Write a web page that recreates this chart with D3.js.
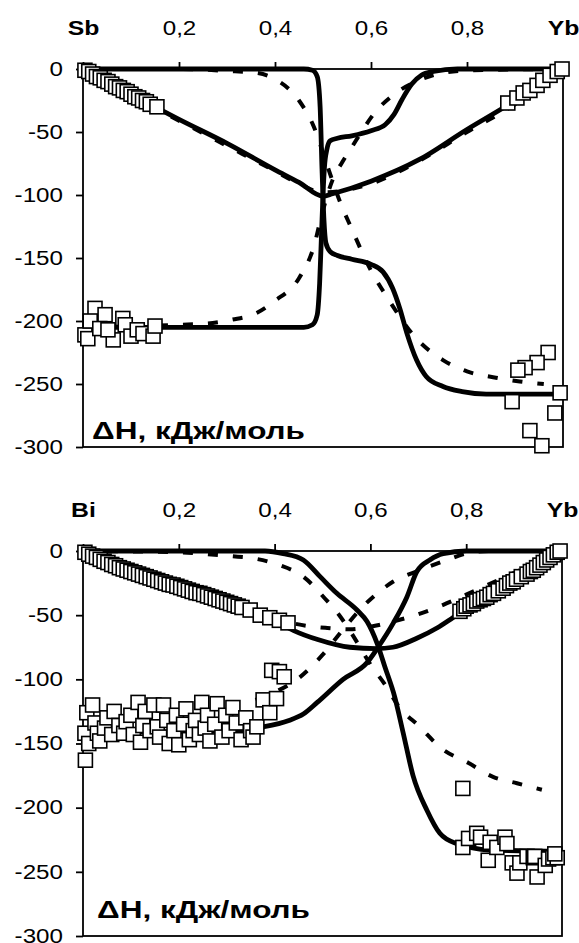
<!DOCTYPE html>
<html>
<head>
<meta charset="utf-8">
<script src="https://cdn.jsdelivr.net/npm/d3@7"></script>
<style>
  body { margin: 0; background: #fff; }
  text { font-family: Arial, "Liberation Sans", sans-serif; fill: #000; }
</style>
</head>
<body>
<svg id="chart" width="579" height="943"></svg>
<script>
// axis ticks
const xTicks = [0, 0.2, 0.4, 0.6, 0.8, 1];
const yTicks = [0, -50, -100, -150, -200, -250, -300];
const yLabel = "ΔH, кДж/моль";

// ---- Sb–Yb panel ----
// calculated curves (solid)
const sbPartSb = [[0,0],[0.2,0],[0.4,0],[0.46,0],[0.478,-1],[0.488,-6],[0.494,-30],[0.498,-80],[0.502,-120],[0.506,-138],[0.515,-145],[0.53,-148],[0.56,-151],[0.6,-155],[0.625,-161],[0.645,-174],[0.66,-190],[0.675,-210],[0.695,-231],[0.715,-244],[0.75,-252],[0.79,-256],[0.84,-258],[1,-258]];
const sbPartYb = [[0,-205],[0.2,-205],[0.4,-205],[0.46,-205],[0.478,-203],[0.488,-195],[0.493,-170],[0.497,-130],[0.5,-100],[0.503,-78],[0.508,-64],[0.515,-57],[0.53,-55],[0.56,-53],[0.6,-49],[0.63,-44],[0.648,-36],[0.665,-24],[0.685,-12],[0.705,-5],[0.73,-2],[0.78,0],[1,0]];
const sbMix = [[0,0],[0.1,-20],[0.2,-40],[0.3,-59],[0.4,-80],[0.45,-90],[0.5,-101],[0.52,-99],[0.6,-89],[0.7,-72],[0.8,-48],[0.875,-31],[0.95,-13],[1,0]];
// model curves (dashed)
const sbPartSbModel = [[0,0],[0.2,0],[0.3,-1.5],[0.36,-3],[0.4,-8],[0.45,-25],[0.48,-45],[0.51,-78],[0.535,-105],[0.56,-127],[0.6,-160],[0.635,-182],[0.69,-212],[0.75,-231],[0.8,-240],[0.86,-245],[0.91,-248],[0.96,-250]];
const sbPartYbModel = [[0,-205],[0.2,-203],[0.26,-202],[0.31,-199],[0.36,-194],[0.4,-184],[0.45,-166],[0.48,-142],[0.5,-112],[0.52,-88],[0.54,-74],[0.56,-62],[0.585,-47],[0.605,-36],[0.645,-21],[0.7,-9],[0.75,-3],[0.81,-1],[1,0]];
const sbMixModel = [[0,0],[0.1,-21],[0.2,-41],[0.3,-61],[0.4,-81],[0.45,-91],[0.5,-98],[0.55,-96],[0.6,-91],[0.7,-73],[0.8,-50],[0.9,-28],[1,0]];
// experiment (squares)
const sbMixExp = [[0.004,-1],[0.012,-2],[0.02,-4],[0.028,-6],[0.036,-7],[0.044,-9],[0.052,-10],[0.06,-12],[0.068,-14],[0.076,-15],[0.084,-17],[0.092,-18],[0.1,-20],[0.108,-22],[0.116,-23],[0.124,-25],[0.132,-26],[0.14,-28],[0.154,-30],
  [0.885,-27],[0.904,-23],[0.917,-19],[0.931,-17],[0.946,-13],[0.958,-9],[0.973,-5],[0.988,-2],[0.998,0]];
const sbPartYbExp = [[0.004,-211],[0.025,-190],[0.015,-200],[0.01,-214],[0.046,-195],[0.035,-206],[0.063,-215],[0.052,-207],[0.083,-198],[0.088,-203],[0.1,-212],[0.113,-207],[0.125,-210],[0.146,-212],[0.15,-204]];
const sbPartSbExp = [[0.969,-225],[0.946,-233],[0.921,-237],[0.906,-239],[0.894,-264],[0.994,-257],[0.983,-273],[0.931,-287],[0.956,-299]];

// ---- Bi–Yb panel ----
const biPartBi = [[0,0],[0.2,0],[0.38,0],[0.418,-2],[0.46,-7],[0.495,-20],[0.53,-33],[0.572,-46],[0.593,-55],[0.614,-72],[0.63,-90],[0.651,-114],[0.668,-141],[0.689,-175],[0.718,-202],[0.745,-220],[0.78,-228],[0.85,-233],[1,-234]];
const biPartYb = [[0,-141],[0.2,-141],[0.3,-140],[0.376,-137],[0.43,-132],[0.46,-127],[0.489,-118],[0.543,-100],[0.593,-87],[0.616,-75],[0.648,-56],[0.676,-36],[0.697,-16],[0.724,-7],[0.752,-2],[0.8,0],[1,0]];
const biMix = [[0,0],[0.1,-14],[0.2,-27],[0.3,-40],[0.35,-47],[0.4,-54],[0.44,-62],[0.49,-69],[0.557,-75],[0.613,-76],[0.647,-75],[0.697,-68],[0.739,-60],[0.772,-52],[0.8,-45],[0.9,-24],[1,0]];
const biPartBiModel = [[0,0],[0.2,-1],[0.26,-2.5],[0.31,-4],[0.36,-6],[0.41,-11],[0.46,-20],[0.505,-37],[0.537,-51],[0.557,-62],[0.603,-90],[0.634,-106],[0.655,-119],[0.703,-137],[0.749,-154],[0.804,-165],[0.856,-176],[0.906,-181],[0.958,-186]];
const biPartYbModel = [[0.36,-116],[0.4,-110],[0.447,-100],[0.5,-81],[0.541,-62],[0.585,-43],[0.605,-36],[0.647,-24],[0.703,-15],[0.76,-7],[0.8,-2],[0.85,0],[1,0]];
const biMixModel = [[0,0],[0.1,-14],[0.2,-27],[0.3,-40],[0.4,-52],[0.447,-57],[0.51,-60],[0.557,-61],[0.6,-59],[0.657,-54],[0.71,-48],[0.752,-42],[0.8,-34],[0.9,-17],[1,0]];
const biMixExp = [[0.004,-1],[0.012,-2.5],[0.02,-4],[0.028,-5],[0.036,-6.5],[0.044,-8],[0.052,-9],[0.06,-10.5],[0.068,-11.5],[0.076,-13],[0.084,-14],[0.092,-15],[0.1,-16],[0.108,-17],[0.116,-18],[0.124,-19],[0.132,-20],[0.14,-21],[0.148,-22],[0.156,-23],[0.164,-24],[0.172,-25],[0.18,-26],[0.188,-26.5],[0.196,-27.5],[0.204,-28.5],[0.212,-29.5],[0.22,-30.5],[0.228,-31.5],[0.236,-32.5],[0.244,-33],[0.252,-34],[0.26,-35],[0.268,-36],[0.276,-37],[0.284,-38],[0.292,-39],[0.3,-40],[0.308,-41],[0.316,-42],[0.324,-43],[0.332,-44],[0.349,-46],[0.37,-50],[0.39,-52],[0.41,-54],[0.428,-56],
  [0.787,-47],[0.795,-45],[0.8,-43],[0.808,-42],[0.815,-41],[0.822,-39],[0.829,-38],[0.836,-37],[0.843,-36],[0.85,-34],[0.857,-33],[0.867,-31],[0.877,-29],[0.884,-27],[0.891,-25],[0.898,-24],[0.905,-22],[0.915,-20],[0.927,-18],[0.934,-16],[0.94,-15],[0.947,-13],[0.954,-11],[0.961,-9],[0.968,-7],[0.975,-5],[0.982,-3],[0.99,-1],[0.996,0]];
const biPartYbExp = [[0.005,-163],[0.004,-142],[0.008,-126],[0.012,-150],[0.02,-120],[0.025,-134],[0.03,-142],[0.035,-148],[0.045,-138],[0.05,-130],[0.06,-143],[0.065,-125],[0.075,-136],[0.085,-142],[0.09,-133],[0.1,-128],[0.105,-143],[0.115,-118],[0.12,-149],[0.125,-136],[0.13,-125],[0.14,-140],[0.148,-120],[0.155,-137],[0.16,-145],[0.168,-120],[0.175,-132],[0.18,-150],[0.19,-140],[0.195,-128],[0.2,-151],[0.21,-135],[0.215,-123],[0.222,-147],[0.23,-140],[0.235,-132],[0.243,-143],[0.248,-118],[0.255,-138],[0.26,-128],[0.265,-148],[0.275,-135],[0.28,-119],[0.29,-145],[0.298,-128],[0.305,-140],[0.313,-122],[0.32,-134],[0.33,-147],[0.34,-130],[0.35,-140],[0.355,-145],[0.363,-137],[0.376,-116],[0.39,-126],[0.404,-115],[0.394,-93],[0.41,-94],[0.42,-98]];
const biPartBiExp = [[0.793,-185],[0.793,-231],[0.805,-224],[0.822,-220],[0.83,-223],[0.85,-227],[0.846,-241],[0.864,-231],[0.881,-223],[0.885,-228],[0.896,-243],[0.906,-251],[0.912,-243],[0.927,-238],[0.94,-239],[0.943,-238],[0.948,-254],[0.965,-245],[0.972,-240],[0.981,-239],[0.99,-239],[0.985,-236]];

const panels = [
  { left: 83, right: 563, top: 69, bottom: 447, el: "Sb", labelX: 92, labelY: 439,
    dashed: [sbPartSbModel, sbPartYbModel, sbMixModel],
    solid: [sbPartSb, sbPartYb, sbMix],
    points: [sbMixExp, sbPartYbExp, sbPartSbExp] },
  { left: 83, right: 562, top: 551, bottom: 936, el: "Bi", labelX: 97, labelY: 918,
    dashed: [biPartBiModel, biPartYbModel, biMixModel],
    solid: [biPartBi, biPartYb, biMix],
    points: [biMixExp, biPartYbExp, biPartBiExp] }
];

// the source picture is stretched sideways, so text gets a horizontal scale
const stretch = 1.24;

const svg = d3.select("#chart");

function drawPanel(p) {
  const x = d3.scaleLinear().domain([0, 1]).range([p.left, p.right]);
  const y = d3.scaleLinear().domain([-300, 0]).range([p.bottom, p.top]);
  const g = svg.append("g");

  // frame
  g.append("rect")
    .attr("x", p.left).attr("y", p.top)
    .attr("width", p.right - p.left).attr("height", p.bottom - p.top)
    .attr("fill", "none").attr("stroke", "#000").attr("stroke-width", 1.8);

  // top axis
  const xa = g.append("g")
    .attr("transform", `translate(0,${p.top})`)
    .call(d3.axisTop(x).tickValues(xTicks).tickSize(7)
      .tickFormat(d => d === 0 ? p.el : d === 1 ? "Yb" : d3.format(".1f")(d).replace(".", ",")));
  xa.select(".domain").remove();
  xa.selectAll("line").attr("stroke-width", 1.8);
  xa.selectAll("text")
    .attr("y", 0).attr("dy", 0)
    .attr("transform", d => `translate(0,-34) scale(${d === 0 || d === 1 ? 1.18 : stretch},1)`)
    .style("font-weight", d => (d === 0 || d === 1) ? "bold" : "normal")
    .style("font-size", d => (d === 0 || d === 1) ? "21px" : "19.5px");

  // left axis
  const ya = g.append("g")
    .attr("transform", `translate(${p.left},0)`)
    .call(d3.axisLeft(y).tickValues(yTicks).tickSize(7).tickFormat(d => String(d)));
  ya.select(".domain").remove();
  ya.selectAll("line").attr("stroke-width", 1.8);
  ya.selectAll("text")
    .attr("x", 0)
    .attr("transform", `translate(-20,0) scale(${stretch},1)`)
    .style("font-size", "19.5px");

  const line = d3.line()
    .x(d => x(d[0]))
    .y(d => y(d[1]))
    .curve(d3.curveMonotoneX);

  p.dashed.forEach(s => {
    g.append("path").attr("d", line(s))
      .attr("fill", "none").attr("stroke", "#000")
      .attr("stroke-width", 4).attr("stroke-dasharray", "10,15");
  });
  p.solid.forEach(s => {
    g.append("path").attr("d", line(s))
      .attr("fill", "none").attr("stroke", "#000")
      .attr("stroke-width", 4.8).attr("stroke-linejoin", "round");
  });

  const sz = 14;
  p.points.forEach(s => {
    g.append("g").selectAll("rect").data(s).join("rect")
      .attr("x", d => x(d[0]) - sz / 2)
      .attr("y", d => y(d[1]) - sz / 2)
      .attr("width", sz).attr("height", sz)
      .attr("fill", "#fff").attr("stroke", "#000").attr("stroke-width", 1.6);
  });

  g.append("text")
    .attr("x", p.labelX).attr("y", p.labelY)
    .attr("textLength", 213).attr("lengthAdjust", "spacingAndGlyphs")
    .style("font-size", "23.5px").style("font-weight", "bold")
    .text(yLabel);
}

panels.forEach(drawPanel);
</script>
</body>
</html>
